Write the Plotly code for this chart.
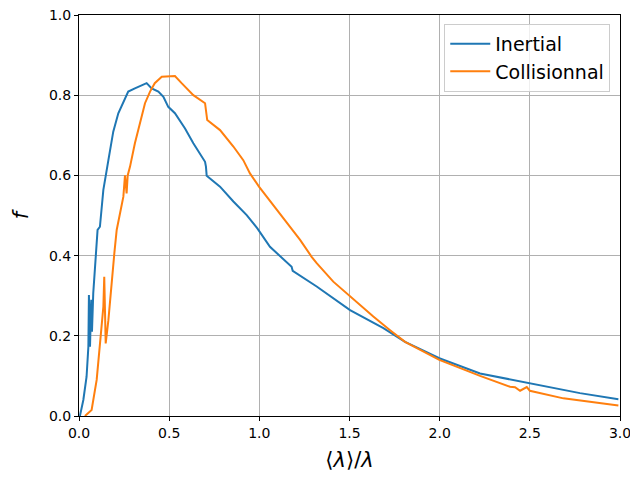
import plotly.graph_objects as go

inertial_x = [0.005, 0.024, 0.042, 0.052, 0.055, 0.061, 0.068, 0.072, 0.079, 0.092, 0.103, 0.116, 0.125, 0.135,
              0.163, 0.19, 0.218, 0.246, 0.273, 0.31, 0.347, 0.375, 0.403, 0.44, 0.468, 0.495, 0.532,
              0.588, 0.634, 0.699, 0.704, 0.708, 0.782, 0.856, 0.93, 0.989, 1.059, 1.179, 1.185, 1.318,
              1.503, 1.688, 1.808, 1.998, 2.224, 2.5, 2.778, 2.991]
inertial_y = [0.0, 0.04, 0.098, 0.173, 0.302, 0.173, 0.29, 0.21, 0.306, 0.389, 0.464, 0.472, 0.522, 0.564,
              0.638, 0.709, 0.755, 0.784, 0.809, 0.817, 0.825, 0.83, 0.817, 0.809, 0.796, 0.771, 0.755,
              0.717, 0.68, 0.634, 0.622, 0.599, 0.572, 0.535, 0.501, 0.468, 0.422, 0.372, 0.362, 0.323,
              0.264, 0.219, 0.185, 0.144, 0.106, 0.082, 0.057, 0.042]

coll_x = [0.033, 0.07, 0.098, 0.116, 0.135, 0.14, 0.148, 0.163, 0.181, 0.196, 0.209, 0.227, 0.246,
          0.255, 0.264, 0.27, 0.283, 0.31, 0.338, 0.366, 0.394, 0.42, 0.459, 0.532, 0.569, 0.634,
          0.699, 0.711, 0.782, 0.856, 0.911, 0.948, 0.998, 1.040, 1.096, 1.133, 1.179, 1.226, 1.29,
          1.318, 1.41, 1.503, 1.632, 1.725, 1.808, 1.998, 2.224, 2.39, 2.418, 2.446, 2.483, 2.5,
          2.686, 2.991]
coll_y = [0.0, 0.015, 0.09, 0.173, 0.272, 0.347, 0.181, 0.239, 0.339, 0.406, 0.464, 0.505, 0.547,
          0.6, 0.555, 0.6, 0.622, 0.68, 0.73, 0.78, 0.809, 0.83, 0.846, 0.848, 0.83, 0.80,
          0.78, 0.738, 0.713, 0.672, 0.638, 0.605, 0.572, 0.547, 0.514, 0.493, 0.464, 0.439, 0.397,
          0.381, 0.335, 0.298, 0.248, 0.214, 0.185, 0.14, 0.10, 0.073, 0.072, 0.063, 0.072, 0.063,
          0.044, 0.026]

x_ticks = [0.0, 0.5, 1.0, 1.5, 2.0, 2.5, 3.0]
y_ticks = [0.0, 0.2, 0.4, 0.6, 0.8, 1.0]

fig = go.Figure()
fig.add_trace(go.Scatter(x=inertial_x, y=inertial_y, mode="lines", name="Inertial",
                         line=dict(color="#1f77b4", width=2)))
fig.add_trace(go.Scatter(x=coll_x, y=coll_y, mode="lines", name="Collisionnal",
                         line=dict(color="#ff7f0e", width=2)))

axis_common = dict(showline=True, linecolor="black", linewidth=1, mirror=True,
                   showgrid=True, gridcolor="#b0b0b0", gridwidth=1, automargin=False,
                   ticks="outside", ticklen=4, tickcolor="black", zeroline=False,
                   ticklabeloverflow="allow",
                   tickfont=dict(family="DejaVu Sans", size=14, color="black"))

fig.update_xaxes(range=[0, 3], tickvals=x_ticks, ticktext=[f"{v:.1f}" for v in x_ticks],
                 title=dict(text="⟨<i>λ</i>⟩/<i>λ</i>", font=dict(family="DejaVu Sans", size=21, color="black"),
                            standoff=12),
                 **axis_common)
fig.update_yaxes(range=[0, 1], tickvals=y_ticks, ticktext=[f"{v:.1f}" for v in y_ticks],
                 title=dict(text="<i>f</i>", font=dict(family="DejaVu Sans", size=21, color="black"),
                            standoff=14),
                 **axis_common)

fig.update_layout(width=630, height=477, margin=dict(l=79, r=10, t=15, b=61),
                  plot_bgcolor="white", paper_bgcolor="white",
                  legend=dict(x=0.982, y=0.978, xanchor="right", yanchor="top", itemwidth=40,
                              bgcolor="rgba(255,255,255,0.8)", bordercolor="#cccccc", borderwidth=1,
                              font=dict(family="DejaVu Sans", size=19, color="black")),
                  showlegend=True)

fig.write_html("out.html", config={"displayModeBar": False},
               post_script="document.body.style.margin='0';document.body.style.padding='0';")
